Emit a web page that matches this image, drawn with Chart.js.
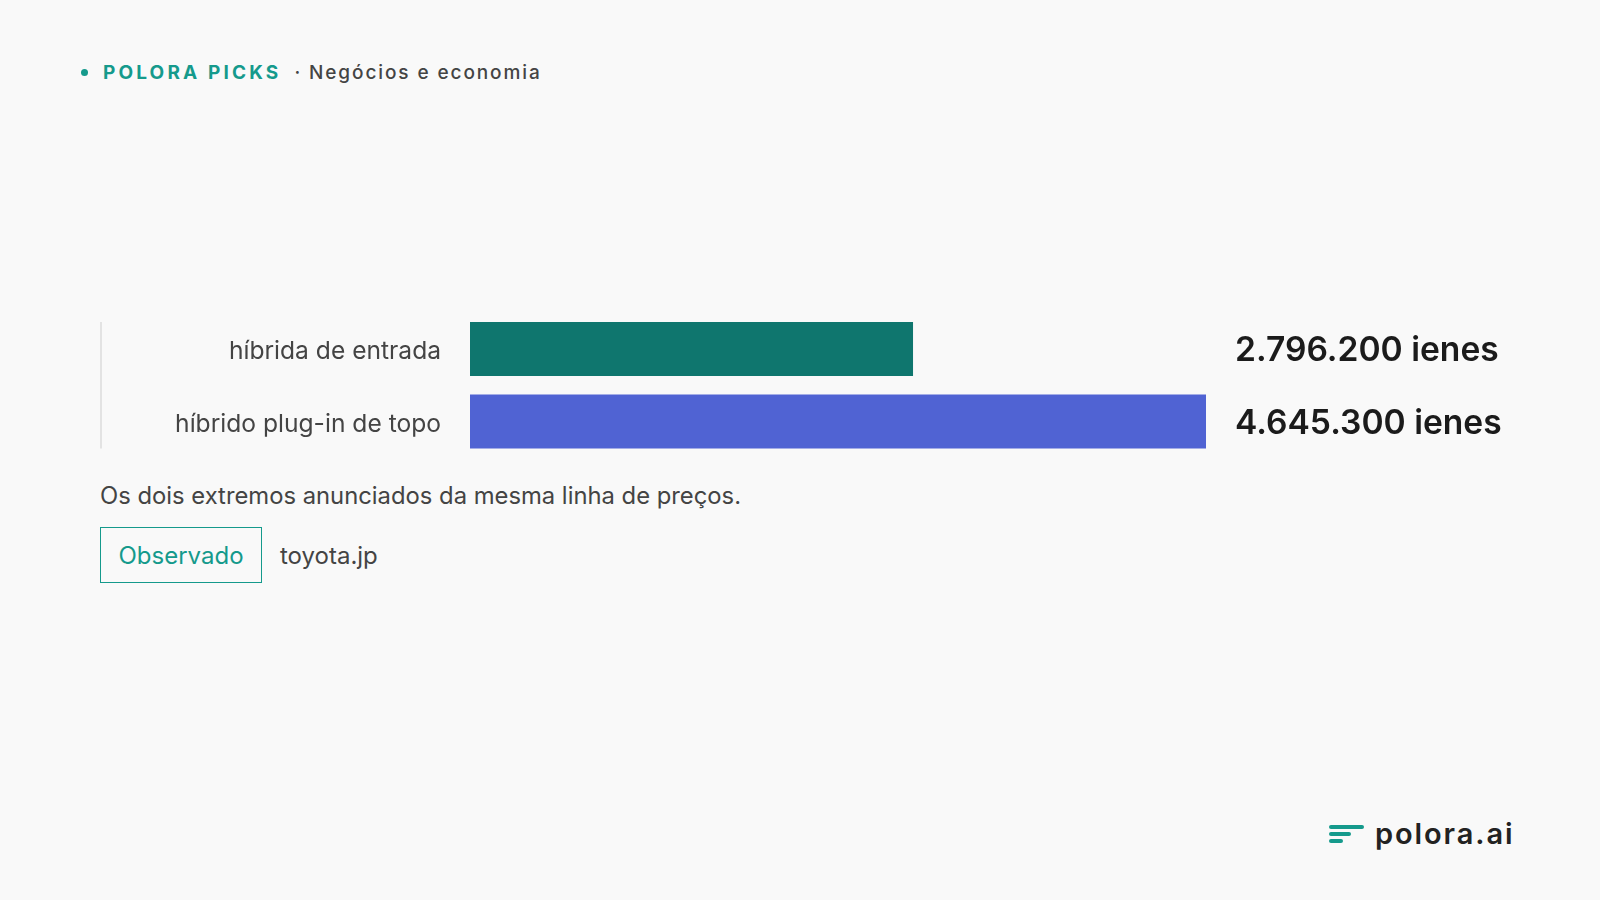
<!DOCTYPE html>
<html>
<head>
<meta charset="utf-8">
<script src="https://cdn.jsdelivr.net/npm/chart.js@4.4.1/dist/chart.umd.min.js"></script>
<style>
  html, body { margin:0; padding:0; }
  body { width:1600px; height:900px; background:#f9f9f9; position:relative; overflow:hidden; font-family: Inter, "Noto Sans", sans-serif; }
  .hdr { position:absolute; left:81px; top:60px; height:24px; display:flex; align-items:center; white-space:nowrap; }
  .dot { width:7px; height:7px; border-radius:50%; background:#159a8c; margin-right:15px; }
  .brand { color:#159a8c; font-weight:700; font-size:19px; letter-spacing:3.15px; }
  .sec { color:#444; font-weight:500; font-size:19px; letter-spacing:1.9px; margin-left:13px; }
  #c { position:absolute; left:100px; top:300px; }
  .caption { position:absolute; left:100px; top:480px; font-size:23.8px; color:#444; white-space:nowrap; line-height:32px; }
  .badge { position:absolute; left:100px; top:527px; width:160px; height:54px; border:1.5px solid #159a8c; box-sizing:content-box; color:#159a8c; font-size:24px; display:flex; align-items:center; justify-content:center; }
  .src { position:absolute; left:280px; top:527px; height:57px; display:flex; align-items:center; font-size:24px; color:#444; }
  .logo { position:absolute; left:1329px; top:818px; height:30px; display:flex; align-items:center; }
  .icon { position:relative; width:35px; height:22px; margin-right:11px; }
  .icon span { position:absolute; left:0; height:4px; border-radius:2px; background:#159a8c; }
  .lname { font-size:29px; font-weight:600; color:#222; letter-spacing:1.9px; }
</style>
</head>
<body>
<div class="hdr"><div class="dot"></div><span class="brand">POLORA PICKS</span><span class="sec">· Negócios e economia</span></div>
<canvas id="c" width="1500" height="170"></canvas>
<div class="caption">Os dois extremos anunciados da mesma linha de preços.</div>
<div class="badge">Observado</div>
<div class="src">toyota.jp</div>
<div class="logo"><div class="icon"><span style="top:3px;width:35px"></span><span style="top:10px;width:22px"></span><span style="top:17px;width:14px"></span></div><span class="lname">polora.ai</span></div>
<script>
const categories = ["híbrida de entrada", "híbrido plug-in de topo"];
const prices = [2796200, 4645300];
const unitLabel = "ienes";
const barColors = ["#0f766e", "#5063d3"];

function fmt(n) {
  return String(n).replace(/\B(?=(\d{3})+(?!\d))/g, ".") + " " + unitLabel;
}

const valueLabels = {
  id: "valueLabels",
  afterDatasetsDraw(chart) {
    const ctx = chart.ctx;
    const area = chart.chartArea;
    const meta = chart.getDatasetMeta(0);
    ctx.save();
    ctx.strokeStyle = "#e3e3e3";
    ctx.lineWidth = 2;
    ctx.beginPath();
    const first = meta.data[0], last = meta.data[meta.data.length - 1];
    ctx.moveTo(1, first.y - first.height / 2);
    ctx.lineTo(1, last.y + last.height / 2);
    ctx.stroke();
    ctx.font = "600 33.6px Inter, 'Noto Sans', sans-serif";
    ctx.fillStyle = "#1b1b1b";
    ctx.textAlign = "left";
    ctx.textBaseline = "middle";
    meta.data.forEach((bar, i) => {
      ctx.fillText(fmt(prices[i]), area.right + 29, bar.y + 2);
    });
    ctx.restore();
  }
};

new Chart(document.getElementById("c"), {
  type: "bar",
  data: {
    labels: categories,
    datasets: [{ data: prices, backgroundColor: barColors, borderWidth: 0, barPercentage: 1, categoryPercentage: 0.745 }]
  },
  options: {
    indexAxis: "y",
    responsive: false,
    animation: false,
    events: [],
    layout: { padding: { top: 12.75, bottom: 12.25, left: 0, right: 394 } },
    plugins: { legend: { display: false }, tooltip: { enabled: false } },
    scales: {
      x: { display: false, min: 0, max: 4645300 },
      y: {
        afterFit(scale) { scale.width = 370; scale.paddingTop = 0; scale.paddingBottom = 0; },
        border: { display: false },
        grid: { display: false, drawTicks: false },
        ticks: { color: "#444", font: { family: "Inter, 'Noto Sans', sans-serif", size: 24.6 }, padding: 29, labelOffset: 3 }
      }
    }
  },
  plugins: [valueLabels]
});
</script>
</body>
</html>
